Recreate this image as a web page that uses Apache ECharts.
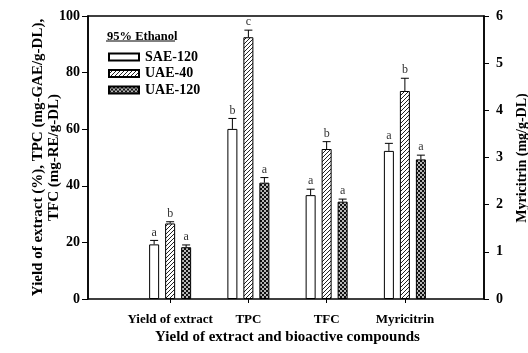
<!DOCTYPE html>
<html>
<head>
<meta charset="utf-8">
<script src="https://cdn.jsdelivr.net/npm/echarts@6/dist/echarts.min.js"></script>
<style>
  html, body { margin: 0; padding: 0; background: #fff; }
  #chart { width: 528px; height: 353px; }
</style>
</head>
<body>
<div id="chart"></div>
<script>
// Extraction results in 95% ethanol.
// Yield (%), TPC and TFC are read on the left axis; Myricitrin (last entry) on the right axis.
const categories = ['Yield of extract', 'TPC', 'TFC', 'Myricitrin'];
const seriesNames = ['SAE-120', 'UAE-40', 'UAE-120'];

const sae120 = [19.3, 60.1, 36.7, 3.14];
const uae40 = [26.7, 92.5, 53.0, 4.41];
const uae120 = [18.3, 41.1, 34.4, 2.96];

const sae120Err = [1.4, 3.7, 2.1, 0.16];
const uae40Err = [0.6, 2.5, 2.6, 0.27];
const uae120Err = [0.8, 1.8, 0.9, 0.09];

const sae120Letters = ['a', 'b', 'a', 'a'];
const uae40Letters = ['b', 'c', 'b', 'b'];
const uae120Letters = ['a', 'a', 'a', 'a'];

const leftTicks = [0, 20, 40, 60, 80, 100];
const rightTicks = [0, 1, 2, 3, 4, 5, 6];

const SERIF = '"Liberation Serif", "DejaVu Serif", serif';

// Fill patterns for the three extraction methods
function makeHatch() {
  const c = document.createElement('canvas');
  c.width = 4; c.height = 4;
  const g = c.getContext('2d');
  g.fillStyle = '#fff'; g.fillRect(0, 0, 4, 4);
  g.strokeStyle = '#222'; g.lineWidth = 1;
  g.beginPath();
  g.moveTo(-1, 5); g.lineTo(5, -1);
  g.moveTo(-1, 1); g.lineTo(1, -1);
  g.moveTo(3, 5); g.lineTo(5, 3);
  g.stroke();
  return c;
}
function makeChecker() {
  const c = document.createElement('canvas');
  c.width = 4; c.height = 4;
  const g = c.getContext('2d');
  g.fillStyle = '#b8b8b8'; g.fillRect(0, 0, 4, 4);
  g.fillStyle = '#111';
  g.fillRect(0, 0, 2, 2); g.fillRect(2, 2, 2, 2);
  return c;
}
const fills = [
  '#ffffff',
  { image: makeHatch(), repeat: 'repeat' },
  { image: makeChecker(), repeat: 'repeat' }
];

const values = [sae120, uae40, uae120];
const errs = [sae120Err, uae40Err, uae120Err];
const letters = [sae120Letters, uae40Letters, uae120Letters];

const BAR_W = 10;
const BAR_STEP = 16;

const series = [];
// Bars: first three categories on the left scale, Myricitrin on the right scale
[false, true].forEach(function (isRight) {
  values.forEach(function (vals, s) {
    series.push({
      name: seriesNames[s],
      type: 'bar',
      xAxisIndex: isRight ? 2 : 1,
      yAxisIndex: isRight ? 3 : 2,
      barWidth: BAR_W,
      barGap: '60%',
      data: vals.map(function (v, i) { return (i === 3) === isRight ? v : null; }),
      itemStyle: { color: fills[s], borderColor: '#000', borderWidth: 1 },
      silent: true
    });
  });
  // Error bars and significance letters
  const items = [];
  values.forEach(function (vals, s) {
    vals.forEach(function (v, i) {
      if ((i === 3) === isRight) items.push([i, v, errs[s][i], s, letters[s][i]]);
    });
  });
  series.push({
    type: 'custom',
    xAxisIndex: isRight ? 2 : 1,
    yAxisIndex: isRight ? 3 : 2,
    silent: true,
    data: items,
    encode: { x: 0, y: 1 },
    renderItem: function (params, api) {
      const cat = api.value(0), v = api.value(1), e = api.value(2), slot = api.value(3);
      const letter = items[params.dataIndex][4];
      const base = api.coord([cat, v]);
      const top = api.coord([cat, v + e]);
      const x = base[0] + (slot - 1) * BAR_STEP;
      return {
        type: 'group',
        children: [
          { type: 'line', shape: { x1: x, y1: base[1], x2: x, y2: top[1] },
            style: { stroke: '#000', lineWidth: 1 } },
          { type: 'line', shape: { x1: x - 4, y1: top[1], x2: x + 4, y2: top[1] },
            style: { stroke: '#000', lineWidth: 1 } },
          { type: 'text', x: x, y: top[1] - 2,
            style: { text: letter, fill: '#333', font: '12px ' + SERIF,
                     align: 'center', verticalAlign: 'bottom' } }
        ]
      };
    }
  });
});

const axisLabelStyle = { color: '#000', fontFamily: SERIF, fontWeight: 'bold', fontSize: 14 };

const option = {
  animation: false,
  backgroundColor: '#fff',
  title: {
    text: '95% Ethanol',
    left: 102, top: 25,
    textStyle: { fontFamily: SERIF, fontWeight: 'bold', fontSize: 12.5, color: '#000' }
  },
  graphic: [
    { type: 'line', shape: { x1: 106, y1: 41, x2: 175, y2: 41 },
      style: { stroke: '#000', lineWidth: 1 } },
    // Right axis title
    { type: 'text', x: 522, y: 158, rotation: Math.PI / 2,
      style: { text: 'Myricitrin (mg/g-DL)', fill: '#000',
               font: 'bold 14px ' + SERIF, align: 'center', verticalAlign: 'middle' } }
  ],
  legend: {
    data: seriesNames,
    orient: 'vertical',
    left: 108, top: 50,
    padding: 0,
    icon: 'rect',
    itemWidth: 30, itemHeight: 7, itemGap: 2.5,
    selectedMode: false,
    textStyle: { fontFamily: SERIF, fontWeight: 'bold', fontSize: 14, color: '#000', padding: [0, 0, 0, 1] }
  },
  grid: [
    { left: 88, right: 44, top: 16, bottom: 54, show: true, borderColor: '#000', borderWidth: 1.5, backgroundColor: 'transparent' },
    { left: 131, right: 84, top: 16, bottom: 54 }
  ],
  xAxis: [
    { type: 'value', gridIndex: 0, min: 0, max: 1, show: false },
    {
      type: 'category', gridIndex: 1, data: categories,
      axisLine: { show: false },
      axisTick: { show: true, alignWithLabel: true, length: 4, lineStyle: { color: '#000' } },
      axisLabel: { color: '#000', fontFamily: SERIF, fontWeight: 'bold', fontSize: 13, margin: 14, interval: 0 },
      name: 'Yield of extract and bioactive compounds',
      nameLocation: 'middle', nameGap: 31, nameMoveOverlap: false,
      nameTextStyle: { color: '#000', fontFamily: SERIF, fontWeight: 'bold', fontSize: 15 }
    },
    { type: 'category', gridIndex: 1, data: categories, show: false }
  ],
  yAxis: [
    {
      type: 'value', gridIndex: 0, position: 'left', min: 0, max: 100, interval: 20,
      splitLine: { show: false },
      axisLine: { show: true, lineStyle: { color: '#000', width: 1.5 } },
      axisTick: { show: true, length: 6, lineStyle: { color: '#000' } },
      axisLabel: Object.assign({ margin: 8,
        formatter: function (v) { return leftTicks.indexOf(v) >= 0 ? String(v) : ''; } }, axisLabelStyle),
      name: 'Yield of extract (%), TPC (mg-GAE/g-DL),\nTFC (mg-RE/g-DL)',
      nameLocation: 'middle', nameRotate: 90, nameGap: 26, nameMoveOverlap: false,
      nameTextStyle: { color: '#000', fontFamily: SERIF, fontWeight: 'bold', fontSize: 15, lineHeight: 16 }
    },
    {
      type: 'value', gridIndex: 0, position: 'right', min: 0, max: 6, interval: 1,
      splitLine: { show: false },
      axisLine: { show: true, lineStyle: { color: '#000', width: 1.5 } },
      axisTick: { show: true, length: 5, lineStyle: { color: '#000' } },
      axisLabel: Object.assign({ margin: 12,
        formatter: function (v) { return rightTicks.indexOf(v) >= 0 ? String(v) : ''; } }, axisLabelStyle)
    },
    { type: 'value', gridIndex: 1, min: 0, max: 100, show: false, splitLine: { show: false } },
    { type: 'value', gridIndex: 1, min: 0, max: 6, show: false, splitLine: { show: false } }
  ],
  series: series
};

const chart = echarts.init(document.getElementById('chart'), null, { renderer: 'canvas' });
chart.setOption(option);
</script>
</body>
</html>
